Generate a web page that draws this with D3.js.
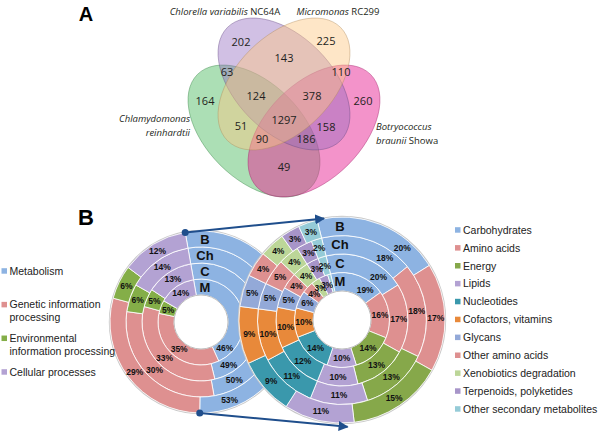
<!DOCTYPE html>
<html>
<head>
<meta charset="utf-8">
<script src="https://cdn.jsdelivr.net/npm/d3@7"></script>
<style>
  body { margin: 0; background: #fff; }
  svg { display: block; }
</style>
</head>
<body>
<svg id="chart" width="600" height="431"></svg>
<script>
// A: shared gene clusters between the four genomes
const vennRegions = ["G", "P", "O", "K", "GP", "PO", "OK", "GK", "GPO", "POK", "GO", "PK", "GOK", "GPK", "GPOK"];
const vennCounts = [164, 202, 225, 260, 63, 143, 110, 49, 124, 378, 51, 158, 90, 186, 1297];

// B: pathway shares for each genome, inner ring -> outer ring
const rings = ["M", "C", "Ch", "B"];
const classNames = ["Metabolism", "Genetic information processing", "Environmental information processing", "Cellular processes"];
const classM = [46, 35, 5, 14];
const classC = [49, 33, 5, 13];
const classCh = [50, 30, 6, 14];
const classB = [53, 29, 6, 12];

const metabNames = ["Carbohydrates", "Amino acids", "Energy", "Lipids", "Nucleotides", "Cofactors, vitamins",
  "Glycans", "Other amino acids", "Xenobiotics degradation", "Terpenoids, polyketides", "Other secondary metabolites"];
const metabM = [19, 16, 14, 10, 14, 10, 6, 4, 3, 3, 1];
const metabC = [20, 17, 13, 10, 12, 10, 5, 4, 4, 3, 2];
const metabCh = [18, 18, 13, 11, 11, 10, 5, 5, 4, 3, 2];
const metabB = [20, 17, 15, 11, 9, 9, 5, 4, 4, 3, 3];

const classColors = ["#8db3e2", "#de9090", "#84ae48", "#b3a2d3"];
const metabColors = ["#8db3e2", "#de9090", "#86a84a", "#b3a2d3", "#3a98ac", "#e8893a",
  "#93a9d8", "#de9090", "#bcd698", "#a795c9", "#95cbd7"];

const svg = d3.select("#chart");
const txt = "#231f20";

// ---------- panel A ----------
svg.append("text").attr("x", 86).attr("y", 21).attr("text-anchor", "middle")
  .attr("font-family", "Liberation Sans, Arial").attr("font-weight", "bold").attr("font-size", 20)
  .text("A");

const ea = 80, eb = 48;
const ellipses = [
  { key: "G", cx: 254, cy: 131, rot: 45, fill: "rgb(70,185,90)", op: 0.45 },
  { key: "K", cx: 314, cy: 131, rot: -45, fill: "rgb(232,40,150)", op: 0.5 },
  { key: "P", cx: 284, cy: 84, rot: 45, fill: "rgb(145,105,190)", op: 0.42 },
  { key: "O", cx: 284, cy: 84, rot: -45, fill: "rgb(252,200,130)", op: 0.45 }
];

const venn = svg.append("g");
venn.selectAll("ellipse").data(ellipses).join("ellipse")
  .attr("transform", d => `translate(${d.cx},${d.cy}) rotate(${d.rot})`)
  .attr("rx", ea).attr("ry", eb)
  .attr("fill", d => d.fill).attr("fill-opacity", d => d.op)
  .attr("stroke", d => d3.color(d.fill).darker(1)).attr("stroke-opacity", 0.5).attr("stroke-width", 0.8);

// place every count at the roomiest point of its region
function q(e, x, y) {
  const t = e.rot * Math.PI / 180, dx = x - e.cx, dy = y - e.cy;
  const u = dx * Math.cos(t) + dy * Math.sin(t), v = -dx * Math.sin(t) + dy * Math.cos(t);
  return Math.sqrt((u / ea) ** 2 + (v / eb) ** 2);
}
const order = ["G", "P", "O", "K"];
const best = {};
for (let x = 160; x <= 410; x += 1) {
  for (let y = 10; y <= 205; y += 1) {
    let code = "", room = Infinity;
    order.forEach(k => {
      const e = ellipses.find(d => d.key === k);
      const s = q(e, x, y);
      if (s < 1) code += k;
      room = Math.min(room, Math.abs(1 - s) * eb);
    });
    if (!code) continue;
    if (!best[code] || room > best[code].room) best[code] = { x, y, room };
  }
}
venn.selectAll("text.count").data(vennRegions).join("text")
  .attr("class", "count")
  .attr("x", d => best[d].x).attr("y", d => best[d].y).attr("dy", "0.35em")
  .attr("text-anchor", "middle").attr("font-family", "Open Sans, Liberation Sans")
  .attr("font-size", 11).attr("fill", txt)
  .text((d, i) => vennCounts[i]);

const vennLabels = [
  { x: 225, y: 15, anchor: "middle", lines: [[["Chlorella variabilis", true], [" NC64A", false]]] },
  { x: 338, y: 15, anchor: "middle", lines: [[["Micromonas", true], [" RC299", false]]] },
  { x: 190, y: 122, anchor: "end", lines: [[["Chlamydomonas", true]], [["reinhardtii", true]]] },
  { x: 376, y: 130, anchor: "start", lines: [[["Botryococcus", true]], [["braunii", true], [" Showa", false]]] }
];
vennLabels.forEach(l => {
  const t = venn.append("text").attr("x", l.x).attr("y", l.y).attr("text-anchor", l.anchor)
    .attr("font-family", "Open Sans, Liberation Sans").attr("font-size", 9.5).attr("fill", txt);
  l.lines.forEach((parts, li) => {
    parts.forEach((p, pi) => {
      const s = t.append("tspan").text(p[0]).attr("font-style", p[1] ? "italic" : "normal");
      if (pi === 0) s.attr("x", l.x).attr("dy", li === 0 ? 0 : 14);
    });
  });
});

// ---------- panel B ----------
svg.append("text").attr("x", 86).attr("y", 225).attr("text-anchor", "middle")
  .attr("font-family", "Liberation Sans, Arial").attr("font-weight", "bold").attr("font-size", 22)
  .text("B");

const font = "Liberation Sans, Arial, sans-serif";

function polar(cx, cy, r, a) { return [cx + r * Math.sin(a), cy - r * Math.cos(a)]; }

function drawDonut(cx, cy, r0, w, startDeg, data, colors, firstFrac, letterDx) {
  const g = svg.append("g");
  const start = startDeg * Math.PI / 180;
  const pie = d3.pie().sort(null).value(d => d).startAngle(start).endAngle(start + 2 * Math.PI);
  const rOut = r0 + data.length * w;
  g.append("circle").attr("cx", cx).attr("cy", cy).attr("r", rOut + 0.6)
    .attr("fill", "none").attr("stroke", "#c8c8c8").attr("stroke-width", 1.2);
  data.forEach((vals, i) => {
    const ri = r0 + i * w, ro = ri + w;
    const arc = d3.arc().innerRadius(ri).outerRadius(ro);
    const arcs = pie(vals);
    g.append("g").attr("transform", `translate(${cx},${cy})`)
      .selectAll("path").data(arcs).join("path")
      .attr("d", arc).attr("fill", (d, j) => colors[j])
      .attr("stroke", "#fff").attr("stroke-width", 0.8);
    g.append("g").selectAll("text").data(arcs).join("text")
      .each(function (d, j) {
        let a, r;
        if (d.data <= 1) { a = d.endAngle - 0.05; r = ri - 6; }
        else {
          const f = j === 0 ? firstFrac : 0.5;
          a = d.startAngle + (d.endAngle - d.startAngle) * f; r = (ri + ro) / 2;
        }
        const p = polar(cx, cy, r, a);
        d3.select(this).attr("x", p[0]).attr("y", p[1]);
      })
      .attr("dy", "0.35em").attr("text-anchor", "middle")
      .attr("font-family", font).attr("font-weight", "bold").attr("font-size", 8.5).attr("fill", "#111")
      .text(d => d.data + "%");
    g.append("text").attr("x", cx + letterDx).attr("y", cy - (ri + ro) / 2).attr("dy", "0.36em")
      .attr("text-anchor", "middle").attr("font-family", font).attr("font-weight", "bold")
      .attr("font-size", 13).attr("fill", "#111").text(rings[i]);
  });
  g.append("circle").attr("cx", cx).attr("cy", cy).attr("r", r0)
    .attr("fill", "#fff").attr("stroke", "#bdbdbd").attr("stroke-width", 1);
  return { cx, cy, r0, rOut, start, pie };
}

const left = drawDonut(201, 322, 27, 16, -10, [classM, classC, classCh, classB], classColors, 0.89, 4);
const right = drawDonut(342, 320, 29, 18.5, -14, [metabM, metabC, metabCh, metabB], metabColors, 0.75, -2);

// arrows from the Metabolism slice of the outer ring to the detail donut
const navy = "#1f4e8c";
svg.append("defs").append("marker").attr("id", "head").attr("viewBox", "0 0 10 10")
  .attr("refX", 9).attr("refY", 5).attr("markerWidth", 5).attr("markerHeight", 5).attr("orient", "auto")
  .append("path").attr("d", "M0,0L10,5L0,10z").attr("fill", navy);
const outerMetab = left.pie(classB)[0];
const a0 = polar(left.cx, left.cy, left.rOut, outerMetab.startAngle);
const a1 = polar(left.cx, left.cy, left.rOut, outerMetab.endAngle);
const t0 = polar(right.cx, right.cy, right.rOut, -10 * Math.PI / 180);
const t1 = polar(right.cx, right.cy, right.rOut + 4, 177 * Math.PI / 180);
[[a0, t0], [a1, t1]].forEach(([s, e]) => {
  svg.append("line").attr("x1", s[0]).attr("y1", s[1]).attr("x2", e[0]).attr("y2", e[1])
    .attr("stroke", navy).attr("stroke-width", 2).attr("marker-end", "url(#head)");
  svg.append("circle").attr("cx", s[0]).attr("cy", s[1]).attr("r", 3.5).attr("fill", navy);
});

// legends
const leftY = d3.scaleLinear().domain([0, 3]).range([271, 372]);
const leftLines = [["Metabolism"], ["Genetic information", "processing"], ["Environmental", "information processing"], ["Cellular processes"]];
classNames.forEach((n, i) => {
  const y = leftY(i);
  svg.append("rect").attr("x", 1.5).attr("y", y - 2.8).attr("width", 5.5).attr("height", 5.5).attr("fill", classColors[i]);
  const t = svg.append("text").attr("font-family", font).attr("font-size", 10.5).attr("fill", "#222");
  leftLines[i].forEach((l, li) => t.append("tspan").attr("x", 9.5).attr("y", y + li * 13).attr("dy", "0.36em").text(l));
});

const rightY = d3.scaleLinear().domain([0, metabNames.length - 1]).range([230, 409]);
metabNames.forEach((n, i) => {
  const y = rightY(i);
  svg.append("rect").attr("x", 455).attr("y", y - 2.8).attr("width", 5.5).attr("height", 5.5).attr("fill", metabColors[i]);
  svg.append("text").attr("x", 463).attr("y", y).attr("dy", "0.36em")
    .attr("font-family", font).attr("font-size", 10.5).attr("fill", "#222").text(n);
});
</script>
</body>
</html>
